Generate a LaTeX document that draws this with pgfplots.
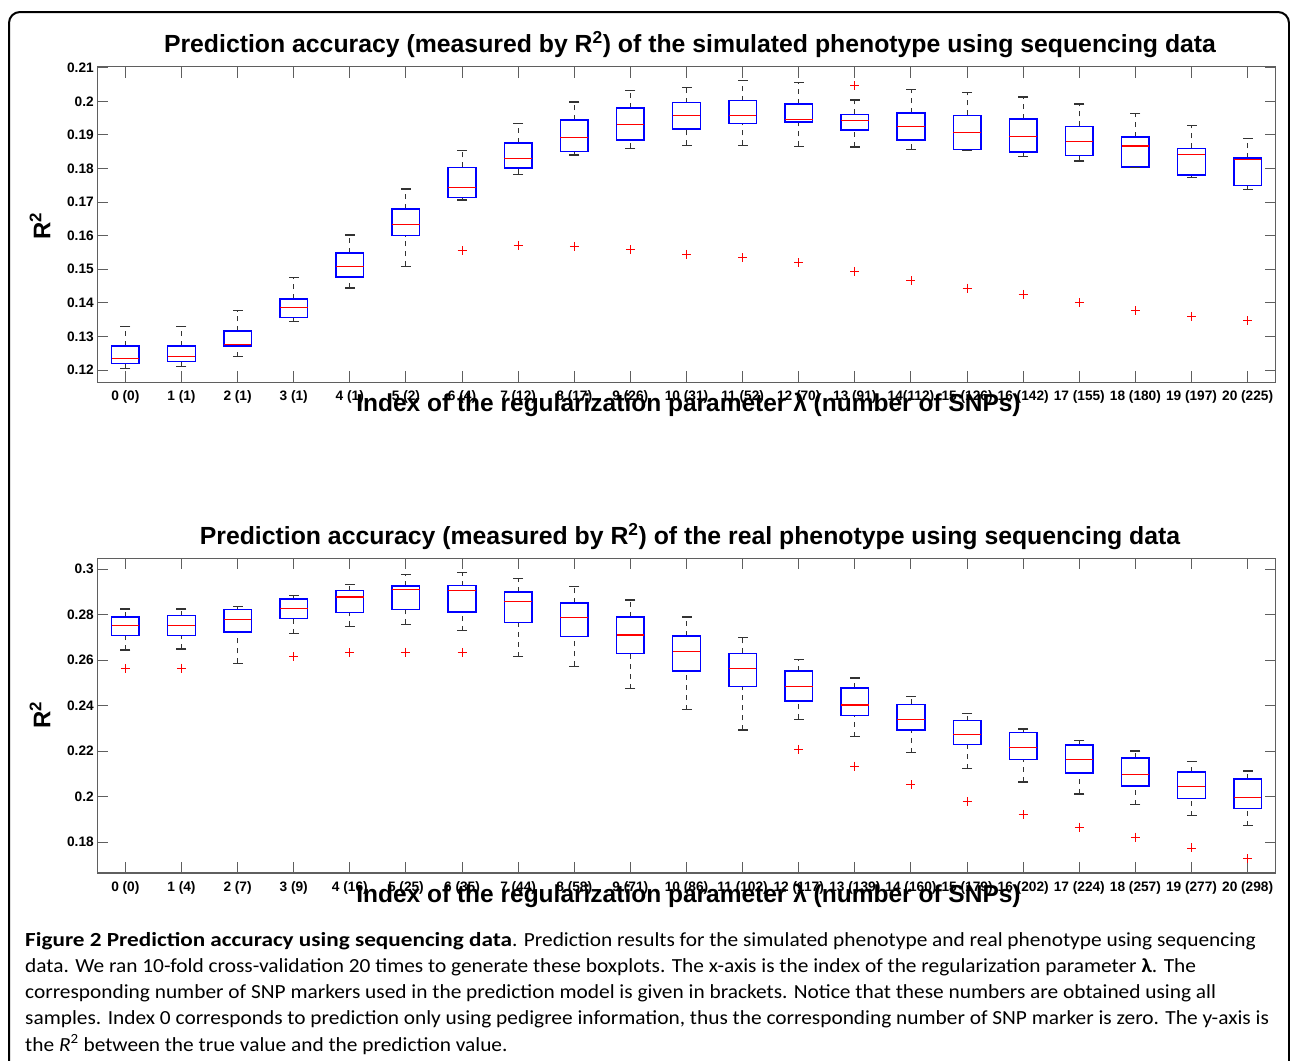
\documentclass[border=0pt]{standalone}
\usepackage{fontspec}
\setmainfont{Liberation Sans}
\newfontfamily\capfont[FakeStretch=1.068]{Carlito}
\newfontfamily\capbold[FakeStretch=1.16]{Carlito}
\usepackage{pgfplots}
\pgfplotsset{compat=1.18}

\definecolor{axgray}{RGB}{95,95,95}
\pgfplotsset{
  mybox/.style={
    scale only axis,
    width=1178.4pt,
    anchor=south west,
    xmin=-0.5, xmax=20.5,
    xtick={0,...,20},
    tick align=inside,
    major tick length=11pt,
    axis line style={axgray, line width=1.3pt},
    every tick/.style={axgray, line width=1pt},
    tick label style={font=\fontsize{13.7}{14}\selectfont\bfseries},
    xticklabel style={yshift=-5pt},
    /pgf/number format/assume math mode=true,
    unbounded coords=jump,
    clip=false,
  },
  whisk/.style={black!80, line width=0.9pt, dash pattern=on 5pt off 5pt, mark=none},
  boxl/.style={blue, line width=1.5pt, mark=none, line cap=rect, line join=miter},
  medl/.style={red, line width=1.1pt, mark=none},
  caps/.style={only marks, mark=-, mark size=5pt, black!80, mark options={line width=1.2pt}},
  outl/.style={only marks, mark=+, red, mark size=4.5pt, mark options={line width=0.9pt}},
}
% #1 position, #2 lower whisker, #3 lower quartile, #4 median, #5 upper quartile, #6 upper whisker
\newcommand{\bp}[6]{%
  \pgfmathsetmacro\xl{#1-0.246}%
  \pgfmathsetmacro\xr{#1+0.246}%
  \edef\doplots{%
    \noexpand\addplot[whisk] coordinates {(#1,#2) (#1,#3) (#1,nan) (#1,#5) (#1,#6)};
    \noexpand\addplot[boxl] coordinates {(\xl,#3) (\xr,#3) (\xr,#5) (\xl,#5) (\xl,#3)};
    \noexpand\addplot[medl] coordinates {(\xl,#4) (\xr,#4)};
  }\doplots}

\begin{document}
\begin{tikzpicture}
\useasboundingbox (0pt,0pt) rectangle (1290pt,-1060pt);
\fill[white] (0pt,0pt) rectangle (1290pt,-1060pt);
\draw[line width=2pt, rounded corners=11pt] (9pt,-1075pt) -- (9pt,-12pt) -- (1289pt,-12pt) -- (1289pt,-1075pt);

% ---------- top panel ----------
\begin{axis}[mybox, at={(97.3pt,-382.3pt)}, height=315.6pt,
  ymin=0.11634, ymax=0.2103,
  ytick={0.12,0.13,0.14,0.15,0.16,0.17,0.18,0.19,0.2,0.21},
  yticklabels={0.12,0.13,0.14,0.15,0.16,0.17,0.18,0.19,0.2,0.21},
  xticklabels={0 (0),1 (1),2 (1),3 (1),4 (1),5 (2),6 (4),7 (12),8 (17),9 (26),10 (31),11 (52),12 (70),13 (91),14(112),15 (126),16 (142),17 (155),18 (180),19 (197),20 (225)},
]
\bp{0}{0.1205}{0.1220}{0.1235}{0.1272}{0.1329}
\bp{1}{0.1210}{0.1225}{0.1240}{0.1272}{0.1329}
\bp{2}{0.1240}{0.1272}{0.1277}{0.1316}{0.1377}
\bp{3}{0.1345}{0.1357}{0.1387}{0.1411}{0.1476}
\bp{4}{0.1444}{0.1477}{0.1508}{0.1549}{0.1602}
\bp{5}{0.1509}{0.1600}{0.1632}{0.1680}{0.1739}
\bp{6}{0.1706}{0.1713}{0.1743}{0.1803}{0.1853}
\bp{7}{0.1783}{0.1801}{0.1831}{0.1876}{0.1934}
\bp{8}{0.1840}{0.1850}{0.1893}{0.1944}{0.1998}
\bp{9}{0.1860}{0.1885}{0.1930}{0.1980}{0.2033}
\bp{10}{0.1869}{0.1918}{0.1959}{0.1996}{0.2042}
\bp{11}{0.1869}{0.1934}{0.1957}{0.2002}{0.2061}
\bp{12}{0.1866}{0.1938}{0.1947}{0.1992}{0.2056}
\bp{13}{0.1864}{0.1914}{0.1944}{0.1961}{0.2004}
\bp{14}{0.1857}{0.1885}{0.1926}{0.1965}{0.2036}
\bp{15}{0.1853}{0.1857}{0.1908}{0.1958}{0.2026}
\bp{16}{0.1835}{0.1849}{0.1894}{0.1947}{0.2013}
\bp{17}{0.1822}{0.1838}{0.1881}{0.1925}{0.1992}
\bp{18}{0.1803}{0.1804}{0.1867}{0.1893}{0.1963}
\bp{19}{0.1774}{0.1780}{0.1842}{0.1860}{0.1929}
\bp{20}{0.1737}{0.1750}{0.1828}{0.1831}{0.1890}
% whisker caps (lower and upper whisker values)
\addplot[caps] coordinates {
(0,0.1205) (0,0.1329) (1,0.1210) (1,0.1329) (2,0.1240) (2,0.1377) (3,0.1345) (3,0.1476)
(4,0.1444) (4,0.1602) (5,0.1509) (5,0.1739) (6,0.1706) (6,0.1853) (7,0.1783) (7,0.1934)
(8,0.1840) (8,0.1998) (9,0.1860) (9,0.2033) (10,0.1869) (10,0.2042) (11,0.1869) (11,0.2061)
(12,0.1866) (12,0.2056) (13,0.1864) (13,0.2004) (14,0.1857) (14,0.2036) (15,0.1853) (15,0.2026)
(16,0.1835) (16,0.2013) (17,0.1822) (17,0.1992) (18,0.1803) (18,0.1963) (19,0.1774) (19,0.1929)
(20,0.1737) (20,0.1890)};
\addplot[outl] coordinates {
(6,0.1555) (7,0.1571) (8,0.1568) (9,0.1558) (10,0.1544) (11,0.1534) (12,0.1519)
(13,0.1494) (13,0.2047) (14,0.1466) (15,0.1444) (16,0.1425) (17,0.1400)
(18,0.1376) (19,0.1360) (20,0.1347)};
\end{axis}

% ---------- bottom panel ----------
\begin{axis}[mybox, at={(97.3pt,-873pt)}, height=314.7pt,
  ymin=0.1665, ymax=0.3047,
  ytick={0.18,0.2,0.22,0.24,0.26,0.28,0.3},
  yticklabels={0.18,0.2,0.22,0.24,0.26,0.28,0.3},
  xticklabels={0 (0),1 (4),2 (7),3 (9),4 (16),5 (25),6 (35),7 (44),8 (58),9 (71),10 (86),11 (102),12 (117),13 (139),14 (160),15 (179),16 (202),17 (224),18 (257),19 (277),20 (298)},
]
\bp{0}{0.2644}{0.2709}{0.2752}{0.2789}{0.2824}
\bp{1}{0.2649}{0.2709}{0.2752}{0.2795}{0.2824}
\bp{2}{0.2586}{0.2723}{0.2777}{0.2823}{0.2836}
\bp{3}{0.2716}{0.2782}{0.2826}{0.2868}{0.2883}
\bp{4}{0.2748}{0.2810}{0.2877}{0.2905}{0.2932}
\bp{5}{0.2757}{0.2823}{0.2912}{0.2925}{0.2976}
\bp{6}{0.2729}{0.2812}{0.2906}{0.2927}{0.2984}
\bp{7}{0.2615}{0.2766}{0.2859}{0.2900}{0.2957}
\bp{8}{0.2572}{0.2704}{0.2788}{0.2850}{0.2924}
\bp{9}{0.2474}{0.2630}{0.2710}{0.2789}{0.2864}
\bp{10}{0.2382}{0.2552}{0.2637}{0.2706}{0.2789}
\bp{11}{0.2293}{0.2485}{0.2562}{0.2630}{0.2700}
\bp{12}{0.2340}{0.2420}{0.2486}{0.2553}{0.2603}
\bp{13}{0.2264}{0.2357}{0.2403}{0.2477}{0.2521}
\bp{14}{0.2194}{0.2292}{0.2341}{0.2406}{0.2439}
\bp{15}{0.2123}{0.2229}{0.2275}{0.2334}{0.2366}
\bp{16}{0.2065}{0.2164}{0.2217}{0.2283}{0.2297}
\bp{17}{0.2012}{0.2104}{0.2164}{0.2227}{0.2246}
\bp{18}{0.1965}{0.2047}{0.2098}{0.2169}{0.2201}
\bp{19}{0.1917}{0.1992}{0.2044}{0.2109}{0.2156}
\bp{20}{0.1873}{0.1948}{0.1996}{0.2077}{0.2113}
\addplot[caps] coordinates {
(0,0.2644) (0,0.2824) (1,0.2649) (1,0.2824) (2,0.2586) (2,0.2836) (3,0.2716) (3,0.2883)
(4,0.2748) (4,0.2932) (5,0.2757) (5,0.2976) (6,0.2729) (6,0.2984) (7,0.2615) (7,0.2957)
(8,0.2572) (8,0.2924) (9,0.2474) (9,0.2864) (10,0.2382) (10,0.2789) (11,0.2293) (11,0.2700)
(12,0.2340) (12,0.2603) (13,0.2264) (13,0.2521) (14,0.2194) (14,0.2439) (15,0.2123) (15,0.2366)
(16,0.2065) (16,0.2297) (17,0.2012) (17,0.2246) (18,0.1965) (18,0.2201) (19,0.1917) (19,0.2156)
(20,0.1873) (20,0.2113)};
\addplot[outl] coordinates {
(0,0.2562) (1,0.2565) (3,0.2615) (4,0.2632) (5,0.2635) (6,0.2634) (12,0.2208)
(13,0.2134) (14,0.2052) (15,0.1978) (16,0.1921) (17,0.1867) (18,0.1823)
(19,0.1775) (20,0.1728)};
\end{axis}

% ---------- titles and labels ----------
\node[anchor=base, font=\fontsize{24.8}{25}\selectfont\bfseries, inner sep=0] at (690pt,-52.7pt)
  {Prediction accuracy (measured by R\textsuperscript{2}) of the simulated phenotype using sequencing data};
\node[anchor=base, font=\fontsize{24.8}{25}\selectfont\bfseries, inner sep=0] at (690pt,-544.3pt)
  {Prediction accuracy (measured by R\textsuperscript{2}) of the real phenotype using sequencing data};
\node[anchor=base, font=\fontsize{24.5}{25}\selectfont\bfseries, inner sep=0] at (688.5pt,-411.7pt)
  {Index of the regularization parameter λ (number of SNPs)};
\node[anchor=base, font=\fontsize{24.5}{25}\selectfont\bfseries, inner sep=0] at (688.5pt,-902.4pt)
  {Index of the regularization parameter λ (number of SNPs)};
\node[rotate=90, font=\fontsize{24}{24}\selectfont\bfseries, inner sep=0] at (40pt,-226pt) {R\textsuperscript{2}};
\node[rotate=90, font=\fontsize{24}{24}\selectfont\bfseries, inner sep=0] at (40pt,-715pt) {R\textsuperscript{2}};

% ---------- caption ----------
\node[anchor=north west, align=left, inner sep=0, font=\capfont\fontsize{20}{26.2}\selectfont] at (25pt,-932pt)
{{\capbold\bfseries Figure 2 Prediction accuracy using sequencing data}. Prediction results for the simulated phenotype and real phenotype using sequencing\\
data. We ran 10-fold cross-validation 20 times to generate these boxplots. The x-axis is the index of the regularization parameter \textbf{λ}. The\\
corresponding number of SNP markers used in the prediction model is given in brackets. Notice that these numbers are obtained using all\\
samples. Index 0 corresponds to prediction only using pedigree information, thus the corresponding number of SNP marker is zero. The y-axis is\\
the \textit{R}\textsuperscript{2} between the true value and the prediction value.};
\end{tikzpicture}
\end{document}
